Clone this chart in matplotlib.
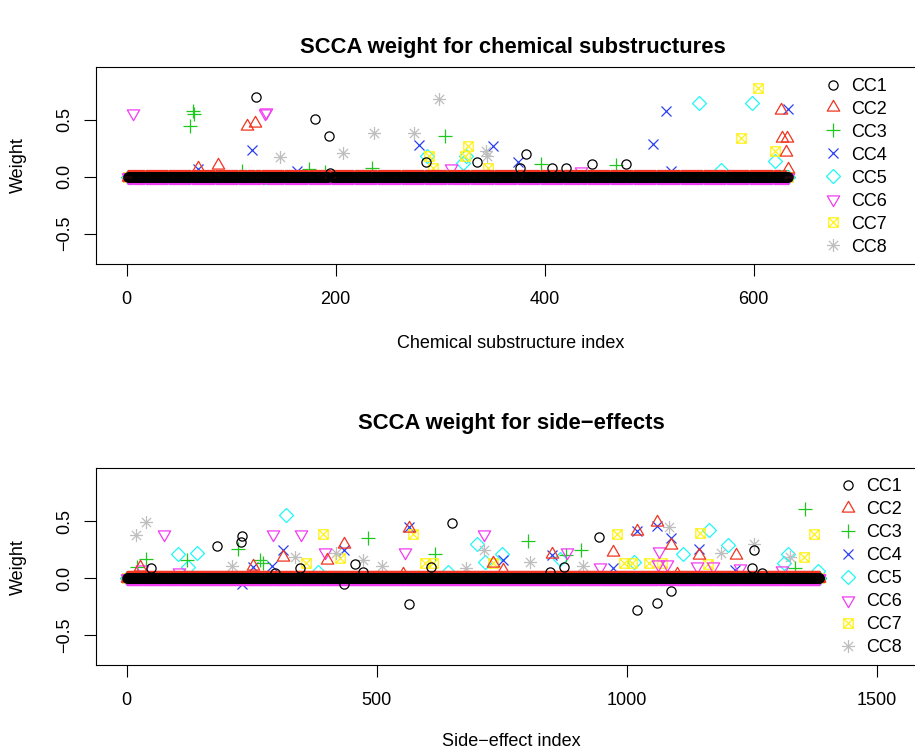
import numpy as np
import matplotlib
matplotlib.use("Agg")
import matplotlib.pyplot as plt
from matplotlib.path import Path
from matplotlib.lines import Line2D

plt.rcParams['font.family'] = ['Liberation Sans', 'DejaVu Sans']

# sparse SCCA weights: (index, weight), every other index is 0
n_chem = 633
n_se = 1385

chem_cc1 = [(124, .70), (180, .51), (194, .36), (195, .03), (286, .13), (335, .13), (376, .08),
            (382, .20), (407, .08), (420, .08), (445, .11), (478, .11)]
chem_cc2 = [(68, .08), (87, .10), (115, .45), (123, .47), (626, .59), (627, .34), (632, .34),
            (631, .22), (633, .07)]
chem_cc3 = [(61, .45), (63, .58), (64, .55), (110, .05), (174, .07), (190, .04), (235, .08),
            (305, .36), (396, .11), (468, .10)]
chem_cc4 = [(68, .07), (120, .24), (163, .05), (280, .28), (351, .275), (374, .13), (504, .29),
            (516, .58), (521, .05), (633, .60)]
chem_cc5 = [(287, .18), (322, .12), (325, .18), (548, .65), (569, .06), (598, .65), (620, .14)]
chem_cc6 = [(6, .56), (132, .56), (133, .57), (310, .08), (435, .05)]
chem_cc7 = [(289, .26), (289, .18), (293, .08), (324, .18), (327, .275), (346, .08), (588, .34),
            (604, .78), (620, .23)]
chem_cc8 = [(147, .175), (207, .21), (237, .386), (275, .386), (299, .687), (344, .225),
            (345, .18)]

se_cc1 = [(48, .09), (180, .28), (228, .32), (230, .37), (297, .045), (347, .085), (434, -.054),
          (457, .12), (472, .055), (565, -.23), (609, .095), (651, .485), (846, .055), (875, .10),
          (944, .36), (1020, -.28), (1060, -.216), (1089, -.115), (1251, .09), (1254, .245),
          (1270, .045)]
se_cc2 = [(27, .10), (253, .11), (313, .19), (401, .16), (435, .30), (552, .04), (565, .44),
          (733, .13), (753, .07), (851, .21), (972, .23), (1020, .415), (1060, .495), (1089, .29),
          (1100, .04), (1144, .20), (1219, .20)]
se_cc3 = [(20, .10), (38, .17), (121, .16), (223, .26), (267, .16), (273, .13), (482, .35),
          (617, .21), (802, .33), (879, .20), (909, .25), (1337, .085), (1357, .61)]
se_cc4 = [(230, -.05), (253, .10), (290, .105), (313, .245), (435, .245), (565, .445), (753, .16),
          (851, .20), (973, .09), (1020, .41), (1060, .456), (1089, .35), (1145, .26), (1217, .07)]
se_cc5 = [(103, .21), (123, .10), (140, .22), (319, .555), (383, .05), (643, .05), (700, .30),
          (717, .14), (750, .21), (867, .17), (1015, .14), (1112, .21), (1165, .42), (1203, .29),
          (1315, .13), (1323, .21), (1383, .06)]
se_cc6 = [(30, .08), (75, .39), (105, .05), (293, .39), (348, .39), (397, .23), (557, .23),
          (715, .39), (881, .23), (947, .10), (1063, .12), (1065, .24), (1081, .12), (1141, .11),
          (1173, .11), (1227, .09), (1310, .07)]
se_cc7 = [(359, .13), (393, .39), (427, .18), (572, .39), (597, .13), (613, .13), (733, .13),
          (981, .39), (995, .13), (1010, .13), (1045, .13), (1070, .13), (1147, .40), (1163, .12),
          (1355, .19), (1375, .39)]
se_cc8 = [(19, .38), (39, .49), (210, .105), (337, .19), (419, .22), (472, .16), (510, .105),
          (678, .085), (715, .245), (807, .14), (913, .11), (1085, .45), (1188, .22), (1255, .30),
          (1327, .19)]

labels = ['CC1', 'CC2', 'CC3', 'CC4', 'CC5', 'CC6', 'CC7', 'CC8']
colors = ['black', '#f2331f', '#1ec81e', '#2a3ff0', '#22f5f5', '#f23cf2', '#fff21a', '#bebebe']

# R-like pch shapes: triangles centred on the centroid, square with x, asterisk
M, L, C = Path.MOVETO, Path.LINETO, Path.CLOSEPOLY
tri_up = Path([(0, 1.555), (-1.347, -0.778), (1.347, -0.778), (0, 1.555)], [M, L, L, C])
tri_dn = Path([(0, -1.555), (-1.347, 0.778), (1.347, 0.778), (0, -1.555)], [M, L, L, C])
sqx = Path([(-1, -1), (1, -1), (1, 1), (-1, 1), (-1, -1), (-1, -1), (1, 1), (-1, 1), (1, -1)],
           [M, L, L, L, C, M, L, M, L])
r2 = np.sqrt(2)
ast = Path([(-1, -1), (1, 1), (-1, 1), (1, -1), (-r2, 0), (r2, 0), (0, -r2), (0, r2)],
           [M, L, M, L, M, L, M, L])
markers = ['o', tri_up, '+', 'x', 'D', tri_dn, sqx, ast]
u = 3.31  # circle radius in points
msizes = [2 * u, 3.11 * u, 2.83 * u, 2 * u, 2 * u, 3.11 * u, 2.05 * u, 2.83 * u]
# drawing order, CC1 last so its zeros form the black band on top
order = [4, 3, 2, 6, 7, 5, 1, 0]


def full_weights(pairs, n):
    w = np.zeros(n)
    for i, v in pairs:
        w[i - 1] = v
    return w


def weight_panel(ax, series, n, xlim, xticks):
    x = np.arange(1, n + 1)
    for k in order:
        w = full_weights(series[k], n)
        ax.plot(x, w, ls='none', marker=markers[k], ms=msizes[k], mfc='none',
                mec=colors[k], mew=0.9)
    ax.set_xlim(xlim)
    ax.set_ylim(-0.766, 0.965)
    ax.set_xticks(xticks)
    ax.set_yticks([-0.5, 0.0, 0.5])
    ax.set_yticklabels(['\u22120.5', '0.0', '0.5'])
    ax.tick_params(direction='out', length=8.5, width=0.8, labelsize=13, pad=8)
    ax.tick_params(axis='x', pad=11)
    for lab in ax.get_yticklabels():
        lab.set_rotation(90)
        lab.set_va('center')
    for s in ax.spines.values():
        s.set_linewidth(0.8)
    handles = [Line2D([], [], ls='none', marker=markers[k], ms=msizes[k], mfc='none',
                      mec=colors[k], mew=0.9) for k in range(8)]
    return handles


fig = plt.figure(figsize=(9.15, 7.51), dpi=100)
W, H = 915.0, 751.0

ax1 = fig.add_axes([96 / W, 1 - 264 / H, 830 / W, 197 / H])
h = weight_panel(ax1, [chem_cc1, chem_cc2, chem_cc3, chem_cc4, chem_cc5, chem_cc6, chem_cc7, chem_cc8],
                 n_chem, (-29.4, 764.9), [0, 200, 400, 600])
ax1.legend(h, labels, loc='upper left', bbox_to_anchor=((824 - 96) / 830, 0.945), frameon=False,
           fontsize=13, handlelength=1.0, handletextpad=0.5, labelspacing=0.33,
           borderpad=0, borderaxespad=0)

ax2 = fig.add_axes([96 / W, 1 - 665.3 / H, 830 / W, 197 / H])
h = weight_panel(ax2, [se_cc1, se_cc2, se_cc3, se_cc4, se_cc5, se_cc6, se_cc7, se_cc8],
                 n_se, (-61.4, 1598.6), [0, 500, 1000, 1500])
ax2.legend(h, labels, loc='upper left', bbox_to_anchor=((839 - 96) / 830, 0.95), frameon=False,
           fontsize=13, handlelength=1.0, handletextpad=0.5, labelspacing=0.33,
           borderpad=0, borderaxespad=0)

cx = (96 + 926) / 2 / W
fig.text(cx + 2 / W, 1 - 48 / H, 'SCCA weight for chemical substructures', ha='center', va='center',
         fontsize=15.8, fontweight='bold')
fig.text(cx, 1 - 343 / H, 'Chemical substructure index', ha='center', va='center', fontsize=13)
fig.text(18 / W, 1 - 165.5 / H, 'Weight', rotation=90, ha='center', va='center', fontsize=13)

fig.text(cx, 1 - 424 / H, 'SCCA weight for side\u2212effects', ha='center', va='center',
         fontsize=15.8, fontweight='bold')
fig.text(cx, 1 - 741 / H, 'Side\u2212effect index', ha='center', va='center', fontsize=13)
fig.text(18 / W, 1 - 567 / H, 'Weight', rotation=90, ha='center', va='center', fontsize=13)

fig.savefig('out.png', dpi=100)
